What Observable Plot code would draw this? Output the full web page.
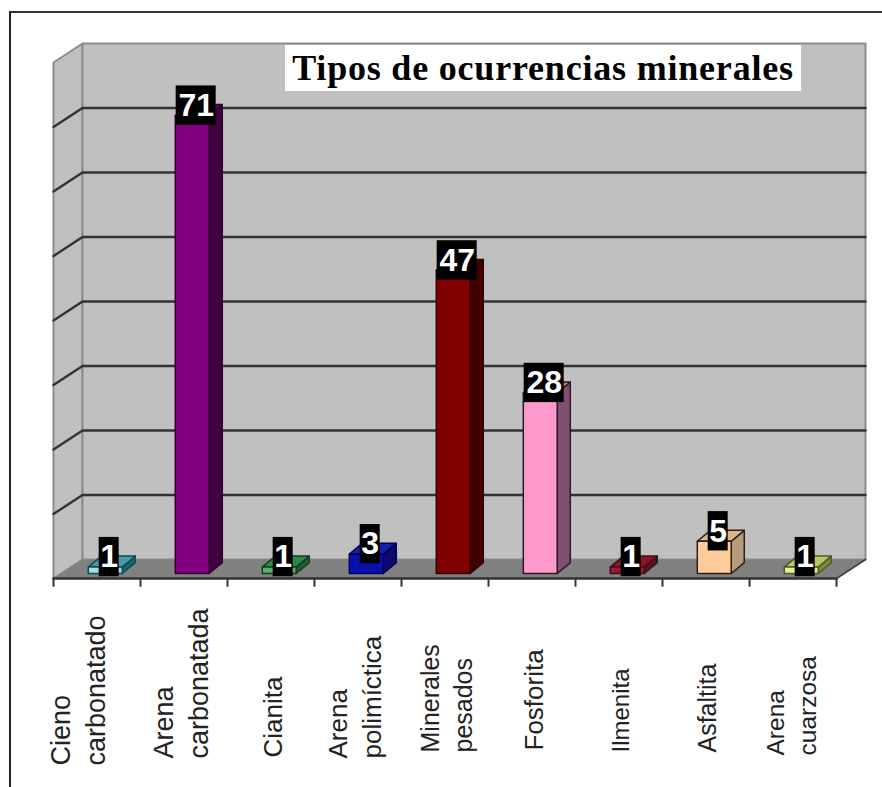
<!DOCTYPE html>
<html><head><meta charset="utf-8">
<script src="https://cdn.jsdelivr.net/npm/d3@7"></script>
<script src="https://cdn.jsdelivr.net/npm/@observablehq/plot@0.6"></script>
<style>
html,body{margin:0;padding:0;background:#fff;overflow:hidden}
#wrap{position:relative;width:882px;height:787px}
#frame{position:absolute;left:9px;top:11px;right:0;bottom:0;border-left:2px solid #222;border-top:2px solid #333}
#title{position:absolute;left:285px;top:45px;width:516px;height:46px;background:#fff;display:flex;align-items:center;justify-content:center;font:700 36px "Liberation Serif",serif;letter-spacing:.8px;color:#000;white-space:nowrap}
svg{position:absolute;left:0;top:0}
</style></head><body>
<div id="wrap"><div id="chart"></div><div id="frame"></div><div id="title">Tipos de ocurrencias minerales</div></div>
<script>
const categories = ["Cieno\ncarbonatado","Arena\ncarbonatada","Cianita","Arena\npolimíctica","Minerales\npesados","Fosforita","Ilmenita","Asfaltita","Arena\ncuarzosa"];
const values = [1,71,1,3,47,28,1,5,1];
const frontColors = ["#a5dbe6","#800080","#55b06a","#0a10b0","#800000","#ff99cc","#a01830","#ffcc99","#e4ee8c"];
const topColors   = ["#4a9aa8","#5c005c","#2f8a4a","#1520b0","#5a0000","#c07aa0","#8a1428","#d9b48c","#b8c860"];
const sideColors  = ["#1f6472","#400040","#1d6032","#0a0a70","#400000","#805070","#601020","#b89a7c","#7f8a40"];
const edgeColors  = ["#0f4a55","#30002f","#123f20","#000050","#300000","#2a1a24","#401018","#2a2016","#50582a"];
const gridValues = [10,20,30,40,50,60,70];
const axisMax = 80;
// per-label presentation of the rotated category labels
const labelSizes = [27,27,26,26,25,26,24,25,24.5];
const labelDx = [-21,-5,0,-5,0,0,0,0,-3];
const labelDy = [187,180,179,180,174,172,174,174,177];

// oblique projection of the 3-D chart box, in data units
const wallX = 1/3, wallY = 2.95;
const barBaseY = 0.77, barX0 = 0.40, barX1 = 0.79, barDX = 0.15, barDY = 1.7;
const n = categories.length;
const poly = (pts, o) => Plot.line(pts, {x:"x", y:"y", curve:"linear-closed", ...o});
const P = (x,y) => ({x,y});

const marks = [];
// walls and floor
marks.push(poly([P(0,0),P(wallX,wallY),P(wallX,axisMax+wallY),P(0,axisMax)],{fill:"#c0c0c0",stroke:"#8c8c8c",strokeWidth:2}));
marks.push(poly([P(wallX,wallY),P(n+wallX,wallY),P(n+wallX,axisMax+wallY),P(wallX,axisMax+wallY)],{fill:"#c0c0c0",stroke:"#8c8c8c",strokeWidth:2}));
marks.push(poly([P(0,0),P(n,0),P(n+wallX,wallY),P(wallX,wallY)],{fill:"#808080",stroke:"none"}));
// gridlines
for (const g of gridValues) {
  marks.push(Plot.line([P(0,g),P(wallX,g+wallY),P(n+wallX,g+wallY)],{x:"x",y:"y",stroke:"#333",strokeWidth:2.4}));
}
// bars
values.forEach((v,i)=>{
  const x0=i+barX0, x1=i+barX1, b=barBaseY, t=v+barBaseY;
  const edge={stroke:edgeColors[i],strokeWidth:1.5,strokeLinejoin:"round"};
  marks.push(poly([P(x1,b),P(x1+barDX,b+barDY),P(x1+barDX,t+barDY),P(x1,t)],{fill:sideColors[i],...edge}));
  marks.push(poly([P(x0,t),P(x1,t),P(x1+barDX,t+barDY),P(x0+barDX,t+barDY)],{fill:topColors[i],...edge}));
  marks.push(poly([P(x0,b),P(x1,b),P(x1,t),P(x0,t)],{fill:frontColors[i],...edge}));
});
// front edges and ticks
marks.push(Plot.line([P(0,0),P(n,0)],{x:"x",y:"y",stroke:"#333",strokeWidth:2.5}));
marks.push(Plot.line([P(n,0),P(n+wallX,wallY)],{x:"x",y:"y",stroke:"#444",strokeWidth:2}));
marks.push(Plot.ruleX(d3.range(n+1),{y1:0,y2:-1.35,stroke:"#333",strokeWidth:2}));
// value labels
const rows = values.map((v,i)=>({i,v}));
const labelX = d=>d.i+0.64, labelY = d=>d.v+barBaseY+1.55;
const hw = d=>String(d.v).length*0.115;
marks.push(Plot.rect(rows,{x1:d=>labelX(d)-hw(d),x2:d=>labelX(d)+hw(d),y1:d=>labelY(d)-3.05,y2:d=>labelY(d)+3.05,fill:"#000"}));
marks.push(Plot.text(rows,{x:labelX,y:labelY,text:d=>String(d.v),fill:"#fff",fontSize:32,fontWeight:700,fontFamily:"Liberation Sans",lineAnchor:"middle"}));
// category labels
categories.forEach((c,i)=>{
  marks.push(Plot.text([{i,c}],{x:d=>d.i+0.5,y:()=>0,text:"c",rotate:-90,textAnchor:"start",lineAnchor:"middle",lineHeight:1.3,
    fontSize:labelSizes[i],fontFamily:"Liberation Sans",fill:"#222",dx:labelDx[i],dy:labelDy[i]}));
});

const chart = Plot.plot({
  width:882,height:787,margin:0,
  style:{background:"transparent"},
  x:{type:"linear",domain:[0,n],range:[53,836],axis:null},
  y:{domain:[0,axisMax],range:[578,62],axis:null},
  marks
});
document.getElementById("chart").append(chart);
</script></body></html>
